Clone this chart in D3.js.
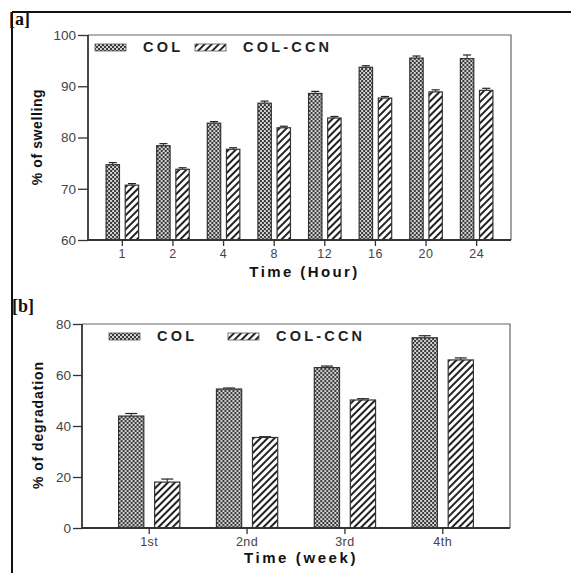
<!DOCTYPE html>
<html>
<head>
<meta charset="utf-8">
<script src="https://cdn.jsdelivr.net/npm/d3@7"></script>
<style>
  body { margin: 0; background: #fff; }
  svg { display: block; }
</style>
</head>
<body>
<div id="chart"></div>
<script>
// ---- data ----
var series = ['COL', 'COL-CCN'];

var hours = ['1', '2', '4', '8', '12', '16', '20', '24'];
var swellCOL = [74.7, 78.4, 82.8, 86.7, 88.6, 93.7, 95.5, 95.4];
var swellCCN = [70.7, 73.8, 77.7, 81.9, 83.8, 87.7, 88.9, 89.2];
var swellCOLerr = [0.4, 0.4, 0.3, 0.4, 0.4, 0.3, 0.4, 0.7];
var swellCCNerr = [0.3, 0.3, 0.3, 0.3, 0.3, 0.3, 0.4, 0.4];
var swellTicks = [60, 70, 80, 90, 100];

var weeks = ['1st', '2nd', '3rd', '4th'];
var degCOL = [43.9, 54.5, 62.9, 74.6];
var degCCN = [18.0, 35.5, 50.2, 65.9];
var degCOLerr = [1.0, 0.4, 0.6, 0.8];
var degCCNerr = [1.2, 0.3, 0.5, 0.8];
var degTicks = [0, 20, 40, 60, 80];

var width = 571, height = 573;
var fontSans = '"Liberation Sans", Arial, sans-serif';

var svg = d3.select('#chart').append('svg')
    .attr('width', width)
    .attr('height', height);

// patterns
var defs = svg.append('defs');
var chk = defs.append('pattern')
    .attr('id', 'pat-col')
    .attr('patternUnits', 'userSpaceOnUse')
    .attr('width', 4).attr('height', 4);
chk.append('rect').attr('width', 4).attr('height', 4).attr('fill', '#3a3a3a');
chk.append('circle').attr('cx', 1).attr('cy', 1).attr('r', 1.05).attr('fill', '#e8e8e8');
chk.append('circle').attr('cx', 3).attr('cy', 3).attr('r', 1.05).attr('fill', '#e8e8e8');

var hatch = defs.append('pattern')
    .attr('id', 'pat-ccn')
    .attr('patternUnits', 'userSpaceOnUse')
    .attr('width', 5).attr('height', 5)
    .attr('patternTransform', 'rotate(45)');
hatch.append('rect').attr('width', 5).attr('height', 5).attr('fill', '#fff');
hatch.append('rect').attr('x', 0).attr('width', 2).attr('height', 5).attr('fill', '#222');

var fills = ['url(#pat-col)', 'url(#pat-ccn)'];

// outer frame
svg.append('line').attr('x1', 12).attr('x2', width).attr('y1', 12).attr('y2', 12)
    .attr('stroke', '#111').attr('stroke-width', 2);
svg.append('line').attr('x1', 12).attr('x2', 12).attr('y1', 12).attr('y2', height)
    .attr('stroke', '#111').attr('stroke-width', 2);

function panel(cfg) {
    var g = svg.append('g');

    var x = d3.scaleBand().domain(cfg.cats)
        .range([cfg.left, cfg.right]).padding(cfg.pad);
    var xs = d3.scaleBand().domain(series)
        .range([0, x.bandwidth()]).paddingInner(0.3);
    var y = d3.scaleLinear().domain(cfg.domain).range([cfg.bottom, cfg.top]);

    var rows = cfg.cats.map(function(c, i) {
        return [
            {cat: c, s: series[0], v: cfg.a[i], e: cfg.ae[i], f: fills[0]},
            {cat: c, s: series[1], v: cfg.b[i], e: cfg.be[i], f: fills[1]}
        ];
    });

    // box top/right
    g.append('path')
        .attr('d', 'M' + cfg.left + ',' + cfg.top + 'H' + cfg.right + 'V' + cfg.bottom)
        .attr('fill', 'none').attr('stroke', '#666').attr('stroke-width', 1.2);

    var grp = g.selectAll('g.grp').data(rows).enter().append('g')
        .attr('class', 'grp')
        .attr('transform', function(d) { return 'translate(' + x(d[0].cat) + ',0)'; });

    var bar = grp.selectAll('g.bar').data(function(d) { return d; }).enter().append('g')
        .attr('class', 'bar');

    // error bars (upper only)
    bar.append('line')
        .attr('x1', function(d) { return xs(d.s) + xs.bandwidth() / 2; })
        .attr('x2', function(d) { return xs(d.s) + xs.bandwidth() / 2; })
        .attr('y1', function(d) { return y(d.v); })
        .attr('y2', function(d) { return y(d.v + d.e); })
        .attr('stroke', '#222').attr('stroke-width', 1);
    bar.append('line')
        .attr('x1', function(d) { return xs(d.s) + xs.bandwidth() / 2 - cfg.cap; })
        .attr('x2', function(d) { return xs(d.s) + xs.bandwidth() / 2 + cfg.cap; })
        .attr('y1', function(d) { return y(d.v + d.e); })
        .attr('y2', function(d) { return y(d.v + d.e); })
        .attr('stroke', '#222').attr('stroke-width', 1.2);

    bar.append('rect')
        .attr('x', function(d) { return xs(d.s); })
        .attr('width', xs.bandwidth())
        .attr('y', function(d) { return y(d.v); })
        .attr('height', function(d) { return cfg.bottom - y(d.v); })
        .attr('fill', function(d) { return d.f; })
        .attr('stroke', '#333').attr('stroke-width', 1.2);

    // axes
    var yAxis = g.append('g')
        .attr('transform', 'translate(' + cfg.left + ',0)')
        .call(d3.axisLeft(y).tickValues(cfg.ticks).tickSize(cfg.ytick).tickPadding(2));
    var xAxis = g.append('g')
        .attr('transform', 'translate(0,' + cfg.bottom + ')')
        .call(d3.axisBottom(x).tickSize(6).tickPadding(3));
    [yAxis, xAxis].forEach(function(a) {
        a.attr('font-family', fontSans);
        a.select('.domain').attr('stroke', '#333').attr('stroke-width', 1.8);
        a.selectAll('.tick line').attr('stroke', '#333').attr('stroke-width', 1.3);
        a.selectAll('.tick text').attr('fill', '#444').attr('font-family', fontSans);
    });
    yAxis.selectAll('.tick text').attr('font-size', 13.5);
    xAxis.selectAll('.tick text').attr('font-size', 12.5).attr('letter-spacing', 0.5);
    yAxis.select('.domain').attr('d', 'M0,' + cfg.bottom + 'V' + cfg.top);
    xAxis.select('.domain').attr('d', 'M' + cfg.left + ',0H' + cfg.right);

    // legend
    series.forEach(function(s, i) {
        var lx = cfg.legX[i];
        g.append('rect')
            .attr('x', lx).attr('y', cfg.legY - 8)
            .attr('width', 31).attr('height', 7)
            .attr('fill', fills[i]).attr('stroke', '#555').attr('stroke-width', 0.8);
        g.append('text')
            .attr('x', lx + 48).attr('y', cfg.legY)
            .attr('font-family', fontSans).attr('font-weight', 'bold')
            .attr('font-size', 14.5).attr('letter-spacing', 3.2)
            .attr('fill', '#222')
            .text(s);
    });

    // titles
    g.append('text')
        .attr('x', (cfg.left + cfg.right) / 2 + 5).attr('y', cfg.xTitleY)
        .attr('text-anchor', 'middle')
        .attr('font-family', fontSans).attr('font-weight', 'bold')
        .attr('font-size', 15).attr('letter-spacing', cfg.xTitleSp)
        .attr('fill', '#111')
        .text(cfg.xTitle);
    g.append('text')
        .attr('transform', 'translate(' + cfg.yTitleX + ',' + cfg.yTitleY + ') rotate(-90)')
        .attr('text-anchor', 'middle')
        .attr('font-family', fontSans).attr('font-weight', 'bold')
        .attr('font-size', 14).attr('letter-spacing', cfg.yTitleSp)
        .attr('fill', '#111')
        .text(cfg.yTitle);

    // panel label
    g.append('text')
        .attr('x', cfg.labX).attr('y', cfg.labY)
        .attr('font-family', '"Liberation Serif", "Times New Roman", serif')
        .attr('font-weight', 'bold').attr('font-size', 18)
        .attr('fill', '#111')
        .text(cfg.label);
}

panel({
    cats: hours, a: swellCOL, b: swellCCN, ae: swellCOLerr, be: swellCCNerr,
    domain: [60, 100], ticks: swellTicks,
    left: 88, right: 511, top: 35, bottom: 240, pad: 0.357, cap: 4, ytick: 10,
    legX: [95, 195], legY: 52,
    xTitle: 'Time (Hour)', xTitleY: 277, xTitleSp: 2.4,
    yTitle: '% of swelling', yTitleX: 42, yTitleY: 137, yTitleSp: 0.6,
    label: '[a]', labX: 9, labY: 25
});

panel({
    cats: weeks, a: degCOL, b: degCCN, ae: degCOLerr, be: degCCNerr,
    domain: [0, 80], ticks: degTicks,
    left: 82, right: 510, top: 324, bottom: 528, pad: 0.374, cap: 6, ytick: 9,
    legX: [109, 228], legY: 341,
    xTitle: 'Time (week)', xTitleY: 563, xTitleSp: 2.6,
    yTitle: '% of degradation', yTitleX: 43, yTitleY: 425, yTitleSp: 0.9,
    label: '[b]', labX: 12, labY: 312
});
</script>
</body>
</html>
